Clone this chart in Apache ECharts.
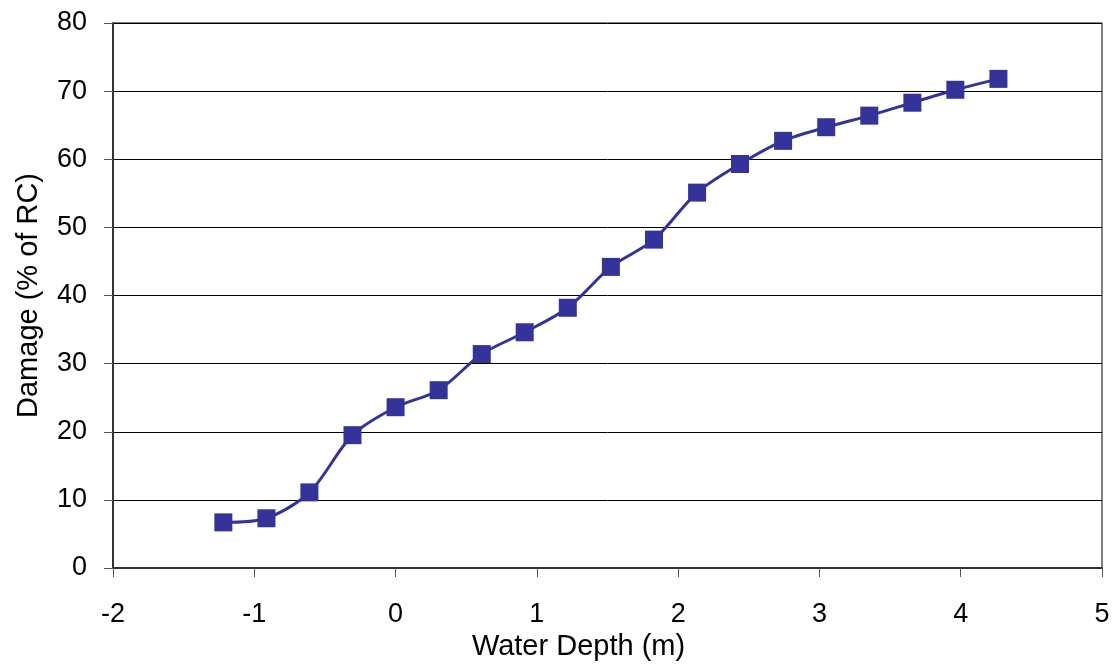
<!DOCTYPE html>
<html>
<head>
<meta charset="utf-8">
<script src="https://cdn.jsdelivr.net/npm/echarts@6/dist/echarts.min.js"></script>
<style>
  html, body { margin: 0; padding: 0; background: #fff; }
  #main { width: 1118px; height: 664px; }
</style>
</head>
<body>
<div id="main"></div>
<script>
// water depth in metres (1 ft steps) and damage in % of RC
var depths = [-1.219, -0.914, -0.610, -0.305, 0, 0.305, 0.610, 0.914, 1.219, 1.524,
              1.829, 2.134, 2.438, 2.743, 3.048, 3.353, 3.658, 3.962, 4.267];
var damage = [6.7, 7.3, 11.1, 19.5, 23.6, 26.1, 31.4, 34.6, 38.2, 44.2,
              48.2, 55.1, 59.3, 62.7, 64.7, 66.4, 68.3, 70.2, 71.8];

var points = depths.map(function (d, i) { return [d, damage[i]]; });

var myChart = echarts.init(document.getElementById('main'));

var txt = { color: '#000', fontFamily: 'Liberation Sans, Arial, sans-serif', fontSize: 27 };
var nameTxt = { color: '#000', fontFamily: 'Liberation Sans, Arial, sans-serif', fontSize: 29 };

var option = {
    backgroundColor: '#fff',
    animation: false,
    grid: {
        left: 113, right: 16, top: 23, bottom: 96,
        outerBoundsMode: 'none',
        show: true, borderColor: '#000', borderWidth: 1
    },
    xAxis: {
        type: 'value',
        min: -2, max: 5, interval: 1,
        name: 'Water Depth (m)',
        nameLocation: 'middle',
        nameGap: 64,
        nameTextStyle: Object.assign({ padding: [0, 58, 0, 0] }, nameTxt),
        axisLine: { lineStyle: { color: '#333', width: 2 } },
        axisTick: { show: true, inside: false, length: 9, lineStyle: { color: '#555', width: 1 } },
        axisLabel: Object.assign({ margin: 33 }, txt),
        splitLine: { show: false }
    },
    yAxis: {
        type: 'value',
        min: 0, max: 80, interval: 10,
        name: 'Damage (% of RC)',
        nameLocation: 'middle',
        nameGap: 70,
        nameTextStyle: nameTxt,
        axisLine: { show: true, onZero: false, lineStyle: { color: '#333', width: 2 } },
        axisTick: { show: true, inside: false, length: 9, lineStyle: { color: '#555', width: 1 } },
        axisLabel: Object.assign({ margin: 26 }, txt),
        splitLine: { show: true, lineStyle: { color: '#000', width: 1 } }
    },
    series: [{
        type: 'line',
        data: points,
        smooth: 0.3,
        symbol: 'rect',
        symbolSize: 18,
        showAllSymbol: true,
        itemStyle: { color: '#333399' },
        lineStyle: { color: '#333399', width: 3 }
    }]
};

myChart.setOption(option);
</script>
</body>
</html>
